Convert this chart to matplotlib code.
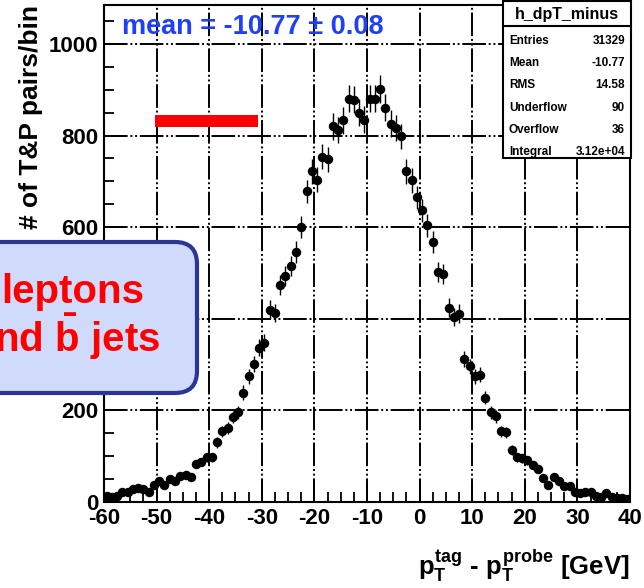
import numpy as np
import matplotlib
matplotlib.use("Agg")
import matplotlib.pyplot as plt
from matplotlib.patches import FancyBboxPatch, Rectangle
from matplotlib.ticker import MultipleLocator

plt.rcParams['font.family'] = ['Liberation Sans', 'DejaVu Sans']
plt.rcParams['font.weight'] = 'bold'
plt.rcParams['axes.unicode_minus'] = False
plt.rcParams['lines.scale_dashes'] = False
plt.rcParams['mathtext.fontset'] = 'custom'
plt.rcParams['mathtext.rm'] = 'Liberation Sans:bold'
plt.rcParams['mathtext.it'] = 'Liberation Sans:bold'
plt.rcParams['mathtext.bf'] = 'Liberation Sans:bold'

# histogram h_dpT_minus: 100 bins of 1 GeV from -60 to 40
bin_lo, bin_hi, n_bins = -60, 40, 100
counts = [
    13, 12, 13, 22, 22, 28, 30, 28, 22, 37,
    46, 37, 50, 46, 57, 59, 54, 83, 87, 98,
    98, 130, 154, 161, 185, 196, 239, 274, 302, 337,
    348, 420, 413, 474, 493, 515, 546, 600, 678, 722,
    704, 754, 748, 820, 813, 833, 880, 878, 850, 835,
    880, 880, 902, 861, 826, 817, 798, 722, 702, 665,
    637, 604, 567, 502, 498, 424, 404, 411, 313, 296,
    274, 278, 228, 196, 187, 154, 152, 113, 98, 96,
    91, 80, 72, 52, 37, 54, 46, 35, 35, 22,
    20, 22, 22, 13, 11, 20, 11, 9, 9, 7,
]

stat_title = 'h_dpT_minus'
stat_names = ['Entries', 'Mean', 'RMS', 'Underflow', 'Overflow', 'Integral']
stat_values = ['31329', '-10.77', '14.58', '90', '36', '3.12e+04']
mean_label = 'mean = -10.77 ± 0.08'

edges = np.linspace(bin_lo, bin_hi, n_bins + 1)
centers = 0.5 * (edges[:-1] + edges[1:])
counts = np.array(counts, dtype=float)

fig = plt.figure(figsize=(6.44, 5.88), dpi=100)
ax = fig.add_axes([104 / 644, 86 / 588, 526 / 644, 497 / 588])

ax.errorbar(centers, counts, yerr=np.sqrt(counts), fmt='o', color='k',
            ms=5.8, elinewidth=1.0, capsize=0, zorder=3)

ax.set_xlim(bin_lo, bin_hi)
ax.set_ylim(0, 1085)
ax.xaxis.set_major_locator(MultipleLocator(10))
ax.xaxis.set_minor_locator(MultipleLocator(2.5))
ax.yaxis.set_major_locator(MultipleLocator(200))
ax.yaxis.set_minor_locator(MultipleLocator(50))
ax.tick_params(which='both', direction='in', top=False, right=False,
               width=1.3, labelsize=16, pad=4)
ax.tick_params(which='major', length=14)
ax.tick_params(which='minor', length=7)
ax.grid(True, which='major', color='k', lw=1.4,
        linestyle=(0, (17, 2, 1.4, 2, 1.4, 2)), zorder=1)
for s in ax.spines.values():
    s.set_linewidth(1.5)

# overlay in pixel units (y downward) for titles, stats box and annotations
ov = fig.add_axes([0, 0, 1, 1])
ov.set_xlim(0, 644)
ov.set_ylim(588, 0)
ov.axis('off')

ov.text(31, 117, '# of T&P pairs/bin', rotation=90, ha='center', va='center',
        fontsize=19)
ov.text(630, 566, r'$p_T^{tag}$ - $p_T^{probe}$ [GeV]', ha='right', va='center',
        fontsize=18.5)

ov.text(122, 27, mean_label, ha='left', va='center', fontsize=19.5,
        color='#2040f8')

# stats box
ov.add_patch(Rectangle((503, 1), 128, 157, fc='white', ec='k', lw=1.5))
ov.plot([503, 631], [26, 26], color='k', lw=1.5)
ov.text(567, 14, stat_title, ha='center', va='center', fontsize=11.5)
for i, (name, val) in enumerate(zip(stat_names, stat_values)):
    y = 41 + i * 22.2
    ov.text(509, y, name, ha='left', va='center', fontsize=8.5)
    ov.text(625, y, val, ha='right', va='center', fontsize=8.5)

# red marker bar
ov.add_patch(Rectangle((155, 115), 103, 12, fc='#ff0000', ec='none'))

# callout box
ov.add_patch(FancyBboxPatch((-30, 242), 227, 151,
                            boxstyle='round,pad=0,rounding_size=22',
                            fc='#d0dbfb', ec='#2a3596', lw=3))
ov.text(144, 303, 'leptons', ha='right', va='baseline', fontsize=29,
        color='#ff0000')
ov.text(160, 352, r'and $\bar{b}$ jets', ha='right', va='baseline', fontsize=29,
        color='#ff0000')

fig.savefig('out.png', dpi=100)
